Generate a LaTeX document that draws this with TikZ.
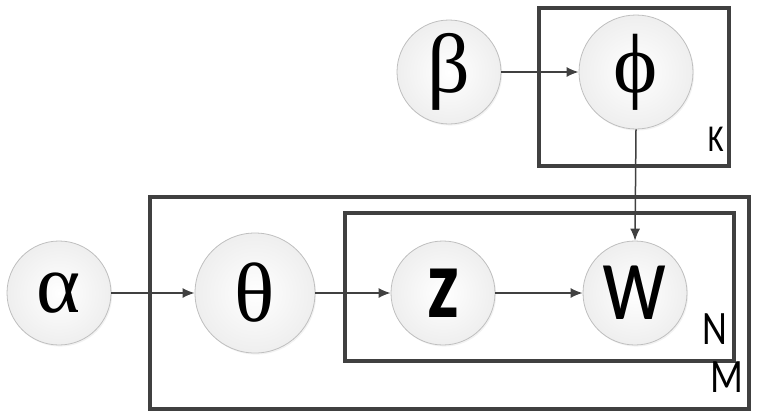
\documentclass[tikz,border=0pt]{standalone}
\usepackage{fontspec}
\setmainfont{Liberation Serif}
\newfontfamily\labelfont{Carlito}
\usetikzlibrary{positioning,shadows,arrows.meta}

\definecolor{linegray}{HTML}{404040}
\newcommand{\narrowtext}[1]{\scalebox{0.8}[1]{#1}}

\tikzset{
	var/.style       = {circle, draw=gray!50, thin, inner color=white, outer color=gray!13, minimum size=52pt, inner sep=0pt, font=\fontsize{42}{42}\selectfont, drop shadow={opacity=0.1, shadow xshift=0.6pt, shadow yshift=-0.8pt}},
	obsvar/.style    = {var, font=\labelfont\fontsize{56}{56}\selectfont},
	plate/.style     = {draw=linegray, line width=1.8pt},
	platelabel/.style = {font=\labelfont\fontsize{24}{24}\selectfont, inner sep=0pt, anchor=south east},
	link/.style      = {draw=linegray, line width=0.75pt, -{Latex[length=6pt,width=5pt]}}
}

\begin{document}
\begin{tikzpicture}[x=0.5pt, y=-0.5pt]
	\useasboundingbox (0,0) rectangle (759,419);
	
	% plates
	\draw[plate] (539,8) rectangle (729,166);
	\draw[plate] (150,197) rectangle (749,409);
	\draw[plate] (345,213) rectangle (734,361);
	\node[platelabel, font=\labelfont\fontsize{19}{19}\selectfont] (k) at (724,152) {\narrowtext{K}};
	\node[platelabel] (n) at (728,345) {\narrowtext{N}};
	\node[platelabel] (m) at (744,393) {\narrowtext{M}};
	
	% variables
	\node[var] (alpha) at (59,293) {α};
	\node[var, minimum size=60pt] (theta) at (255,293) {θ};
	\node[obsvar, font=\labelfont\bfseries\fontsize{50}{50}\selectfont] (z) at (443,293) {\narrowtext{z}};
	\node[obsvar] (w) at (635,293) {\narrowtext{w}};
	\node[var] (beta) at (449,72) {β};
	\node[var, minimum size=57pt] (phi) at (636,72) {ϕ};
	
	% dependencies
	\draw[link] (alpha) -- (theta);
	\draw[link] (theta) -- (z);
	\draw[link] (z) -- (w);
	\draw[link] (beta) -- (phi);
	\draw[link] (phi.south) -- (w.north);
	
\end{tikzpicture}
\end{document}
